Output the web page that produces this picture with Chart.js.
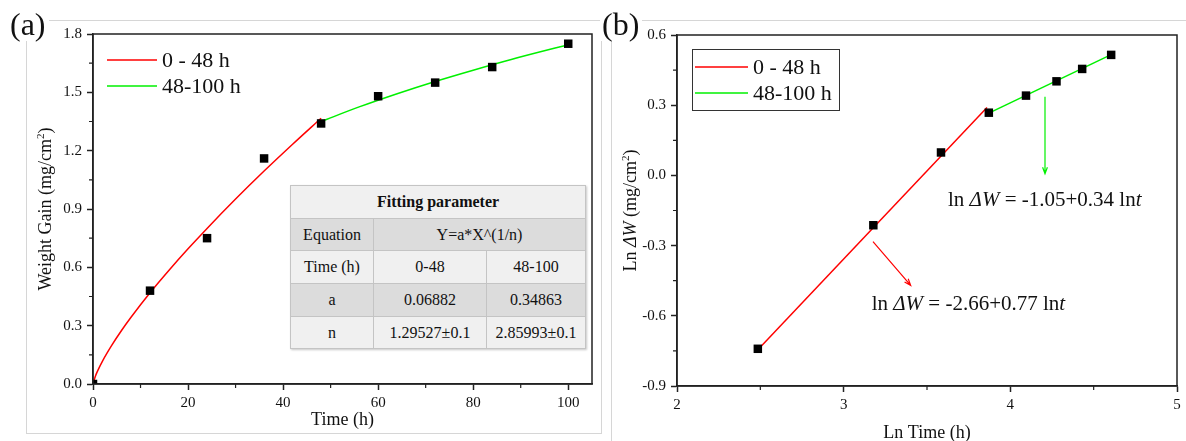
<!DOCTYPE html>
<html>
<head>
<meta charset="utf-8">
<script src="https://cdn.jsdelivr.net/npm/chart.js@4.4.1/dist/chart.umd.min.js"></script>
<style>
  body { margin: 0; background: #fff; }
  #page { position: relative; width: 1186px; height: 441px; overflow: hidden;
          font-family: "Liberation Serif", "Times New Roman", serif; color: #111; }
  .frame { position: absolute; border: 1px solid #d6d6d6; }
  canvas { position: absolute; top: 0; }
  .tag { position: absolute; background: #fff; font-size: 32px; line-height: 30px; padding: 0 3px 2px 2px; }
  #fit { position: absolute; left: 290px; top: 185px; border-collapse: collapse; font-size: 16px;
         box-shadow: 1px 1px 2px #c8c8c8; }
  #fit td { border: 1px solid #c4c4c4; text-align: center; padding: 0; }
</style>
</head>
<body>
<div id="page">
  <div class="frame" style="left:26px;top:20px;width:574px;height:412px;"></div>
  <div class="frame" style="left:611px;top:20px;width:700px;height:500px;"></div>
  <canvas id="chartA" width="605" height="441" style="left:0"></canvas>
  <canvas id="chartB" width="581" height="441" style="left:605px"></canvas>
  <table id="fit"></table>
  <div class="tag" style="left:8px;top:9px;">(a)</div>
  <div class="tag" style="left:600px;top:9px;">(b)</div>
</div>
<script>
// (a) weight gain vs time
const timeH = [0, 12, 24, 36, 48, 60, 72, 84, 100];
const weightGain = [0, 0.48, 0.75, 1.16, 1.34, 1.48, 1.55, 1.63, 1.75];
const fitEarlyT = [0, 0.5, 1, 2, 4, 6, 8, 12, 16, 20, 24, 30, 36, 42, 48];
const fitEarlyW = [0, 0.040, 0.069, 0.118, 0.201, 0.275, 0.343, 0.469, 0.585, 0.695, 0.800, 0.951, 1.095, 1.233, 1.367];
const fitLateT = [48, 56, 64, 72, 80, 88, 100];
const fitLateW = [1.350, 1.425, 1.493, 1.556, 1.614, 1.669, 1.745];

// (b) ln-ln plot
const lnTime = [2.485, 3.178, 3.584, 3.871, 4.094, 4.277, 4.431, 4.605];
const lnGain = [-0.741, -0.213, 0.098, 0.268, 0.341, 0.402, 0.455, 0.515];
const lnFitEarlyT = [2.485, 3.860];
const lnFitEarlyW = [-0.745, 0.290];
const lnFitLateT = [3.871, 4.605];
const lnFitLateW = [0.266, 0.516];

const seriesLabels = ["0 - 48 h", "48-100 h"];

const xTicksA = [0, 20, 40, 60, 80, 100];
const yTicksA = [0, 0.3, 0.6, 0.9, 1.2, 1.5, 1.8];
const xTicksB = [2, 3, 4, 5];
const yTicksB = [-0.9, -0.6, -0.3, 0, 0.3, 0.6];

const tableRows = [
  ["Equation", "Y=a*X^(1/n)"],
  ["Time (h)", "0-48", "48-100"],
  ["a", "0.06882", "0.34863"],
  ["n", "1.29527±0.1", "2.85993±0.1"]
];

const FONT = "'Liberation Serif', 'Times New Roman', serif";
const RED = "#ff0000", GREEN = "#00f000";

const pts = (xs, ys) => xs.map((x, i) => ({x, y: ys[i]}));
const mids = t => t.slice(1).map((v, i) => (v + t[i]) / 2);

// table
(function () {
  const tbl = document.getElementById("fit");
  const widths = [82, 112, 98];
  const heights = [33, 32, 33, 33, 32];
  const shades = ["#f0f0f0", "#dcdcdc", "#f0f0f0", "#dcdcdc", "#f0f0f0"];
  let html = `<tr style="height:${heights[0]}px;background:${shades[0]}"><td colspan="3" style="width:${widths[0] + widths[1] + widths[2]}px"><b>Fitting parameter</b></td></tr>`;
  tableRows.forEach((r, i) => {
    html += `<tr style="height:${heights[i + 1]}px;background:${shades[i + 1]}">`;
    if (r.length === 2) {
      html += `<td style="width:${widths[0]}px">${r[0]}</td><td colspan="2">${r[1]}</td>`;
    } else {
      r.forEach((c, j) => html += `<td style="width:${widths[j]}px">${c}</td>`);
    }
    html += "</tr>";
  });
  tbl.innerHTML = html;
})();

// rich text: segments {t, it, sup}
function richWidth(ctx, segs, size) {
  let w = 0;
  segs.forEach(s => {
    ctx.font = `${s.it ? "italic " : ""}${s.sup ? size * 0.62 : size}px ${FONT}`;
    w += ctx.measureText(s.t).width;
  });
  return w;
}
function drawRich(ctx, segs, size, x, y, align) {
  let cx = align === "center" ? x - richWidth(ctx, segs, size) / 2 : x;
  ctx.textBaseline = "alphabetic";
  ctx.textAlign = "left";
  segs.forEach(s => {
    ctx.font = `${s.it ? "italic " : ""}${s.sup ? size * 0.62 : size}px ${FONT}`;
    ctx.fillText(s.t, cx, s.sup ? y - size * 0.38 : y);
    cx += ctx.measureText(s.t).width;
  });
}

function arrow(ctx, x1, y1, x2, y2, color) {
  const ang = Math.atan2(y2 - y1, x2 - x1), h = 7;
  ctx.strokeStyle = color;
  ctx.lineWidth = 1.2;
  ctx.beginPath();
  ctx.moveTo(x1, y1); ctx.lineTo(x2, y2);
  ctx.moveTo(x2 - h * Math.cos(ang - 0.35), y2 - h * Math.sin(ang - 0.35));
  ctx.lineTo(x2, y2);
  ctx.lineTo(x2 - h * Math.cos(ang + 0.35), y2 - h * Math.sin(ang + 0.35));
  ctx.stroke();
}

const deco = {
  id: "deco",
  afterDraw(chart, args, o) {
    const {ctx, chartArea: a, scales: {x, y}} = chart;
    ctx.save();
    ctx.strokeStyle = "#222";
    ctx.lineWidth = 1.5;
    ctx.strokeRect(a.left, a.top, a.right - a.left, a.bottom - a.top);

    // minor ticks
    ctx.lineWidth = 1.2;
    ctx.beginPath();
    mids(o.xTicks).forEach(v => {
      const px = x.getPixelForValue(v);
      ctx.moveTo(px, a.bottom); ctx.lineTo(px, a.bottom + 4);
    });
    mids(o.yTicks).forEach(v => {
      const py = y.getPixelForValue(v);
      ctx.moveTo(a.left, py); ctx.lineTo(a.left - 4, py);
    });
    ctx.stroke();

    // axis titles
    ctx.fillStyle = "#111";
    drawRich(ctx, o.xTitle, 18, (a.left + a.right) / 2, o.xTitleY, "center");
    ctx.save();
    ctx.translate(o.yTitleX, (a.top + a.bottom) / 2);
    ctx.rotate(-Math.PI / 2);
    drawRich(ctx, o.yTitle, 18, 0, 0, "center");
    ctx.restore();

    // legend
    const L = o.legend;
    if (L.box) {
      ctx.strokeStyle = "#333";
      ctx.lineWidth = 1;
      ctx.strokeRect(L.box[0] + 0.5, L.box[1] + 0.5, L.box[2], L.box[3]);
    }
    chart.data.datasets.filter(d => d.inLegend).forEach((d, i) => {
      const ly = L.y + i * L.dy;
      ctx.strokeStyle = d.borderColor;
      ctx.lineWidth = 1.5;
      ctx.beginPath(); ctx.moveTo(L.x, ly); ctx.lineTo(L.x + L.len, ly); ctx.stroke();
      ctx.fillStyle = "#111";
      ctx.font = `22px ${FONT}`;
      ctx.textBaseline = "middle";
      ctx.textAlign = "left";
      ctx.fillText(d.label, L.x + L.len + 5, ly + 1);
    });

    // annotations in data space
    (o.arrows || []).forEach(r => arrow(ctx, x.getPixelForValue(r.from[0]), y.getPixelForValue(r.from[1]),
      x.getPixelForValue(r.to[0]), y.getPixelForValue(r.to[1]), r.color));
    ctx.fillStyle = "#111";
    (o.notes || []).forEach(n => drawRich(ctx, n.segs, 21, x.getPixelForValue(n.at[0]), y.getPixelForValue(n.at[1]), "left"));
    ctx.restore();
  }
};

function axis(min, max, ticks, size, dp, pad) {
  return {
    type: "linear", min, max,
    afterBuildTicks: s => { s.ticks = ticks.map(v => ({value: v})); },
    afterFit: s => { if (s.isHorizontal()) s.height = size; else s.width = size; },
    grid: {drawOnChartArea: false, drawTicks: true, tickLength: 6, tickColor: "#222", tickWidth: 1.5},
    border: {display: true, color: "#222", width: 1.5},
    ticks: {
      color: "#111", padding: pad, maxRotation: 0, autoSkip: false,
      font: {family: FONT, size: 15},
      callback: v => (Math.abs(v) < 1e-9 ? 0 : v).toFixed(dp)
    }
  };
}

function makeChart(id, cfg) {
  return new Chart(document.getElementById(id), {
    type: "scatter",
    data: {datasets: cfg.datasets},
    options: {
      responsive: false, animation: false, events: [],
      layout: {padding: cfg.pad},
      plugins: {legend: {display: false}, tooltip: {enabled: false}, deco: cfg.deco},
      scales: {x: cfg.x, y: cfg.y}
    },
    plugins: [deco]
  });
}

const markers = data => ({label: "data", data, showLine: false, pointStyle: "rect", pointRadius: 6,
  backgroundColor: "#000", borderWidth: 0});
const fitLine = (label, data, color) => ({label, data, showLine: true, inLegend: true, pointRadius: 0,
  borderColor: color, borderWidth: 1.5, cubicInterpolationMode: "monotone"});

makeChart("chartA", {
  pad: {top: 34, right: 13, left: 0, bottom: 0},
  datasets: [
    markers(pts(timeH, weightGain)),
    fitLine(seriesLabels[0], pts(fitEarlyT, fitEarlyW), RED),
    fitLine(seriesLabels[1], pts(fitLateT, fitLateW), GREEN)
  ],
  x: axis(0, 105, xTicksA, 57, 0, 4),
  y: axis(0, 1.8, yTicksA, 93, 1, 5),
  deco: {
    xTicks: xTicksA, yTicks: yTicksA,
    xTitle: [{t: "Time (h)"}], xTitleY: 425,
    yTitle: [{t: "Weight Gain (mg/cm"}, {t: "2", sup: true}, {t: ")"}], yTitleX: 51,
    legend: {x: 107, y: 60, dy: 26, len: 50}
  }
});

makeChart("chartB", {
  pad: {top: 35, right: 9, left: 0, bottom: 0},
  datasets: [
    markers(pts(lnTime, lnGain)),
    fitLine(seriesLabels[0], pts(lnFitEarlyT, lnFitEarlyW), RED),
    fitLine(seriesLabels[1], pts(lnFitLateT, lnFitLateW), GREEN)
  ],
  x: axis(2, 5, xTicksB, 55, 0, 4),
  y: axis(-0.9, 0.6, yTicksB, 72, 1, 5),
  deco: {
    xTicks: xTicksB, yTicks: yTicksB,
    xTitle: [{t: "Ln Time (h)"}], xTitleY: 438,
    yTitle: [{t: "Ln "}, {t: "ΔW", it: true}, {t: " (mg/cm"}, {t: "2", sup: true}, {t: ")"}], yTitleX: 31,
    legend: {x: 90, y: 67, dy: 26, len: 53, box: [87, 49, 147, 61]},
    arrows: [
      {from: [4.208, 0.336], to: [4.208, 0.007], color: GREEN},
      {from: [3.176, -0.283], to: [3.402, -0.470], color: RED}
    ],
    notes: [
      {at: [3.626, -0.132], segs: [{t: "ln "}, {t: "ΔW", it: true}, {t: " = -1.05+0.34 ln"}, {t: "t", it: true}]},
      {at: [3.168, -0.574], segs: [{t: "ln "}, {t: "ΔW", it: true}, {t: " = -2.66+0.77 ln"}, {t: "t", it: true}]}
    ]
  }
});
</script>
</body>
</html>
